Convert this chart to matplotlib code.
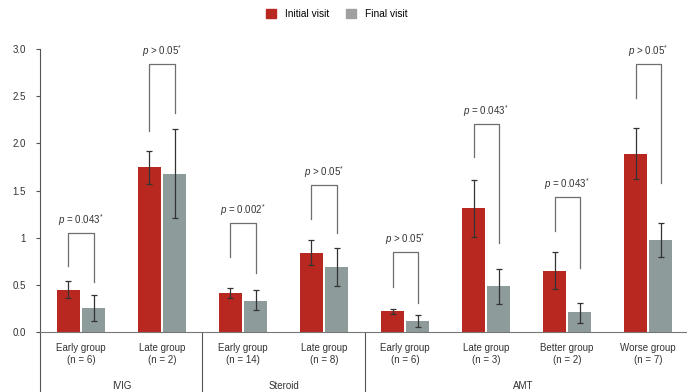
import matplotlib
matplotlib.use("Agg")
import matplotlib.pyplot as plt
import matplotlib.transforms as mtransforms
from matplotlib.patches import Patch

plt.rcParams['font.family'] = ['Liberation Sans', 'DejaVu Sans']
plt.rcParams['mathtext.fontset'] = 'custom'
plt.rcParams['mathtext.rm'] = 'Liberation Sans'
plt.rcParams['mathtext.it'] = 'Liberation Sans:italic'

# data
categories = ['Early group\n(n = 6)', 'Late group\n(n = 2)',
              'Early group\n(n = 14)', 'Late group\n(n = 8)',
              'Early group\n(n = 6)', 'Late group\n(n = 3)',
              'Better group\n(n = 2)', 'Worse group\n(n = 7)']
treatments = ['IVIG', 'Steroid', 'AMT']
treatment_span = [(0, 1), (2, 3), (4, 7)]

initial = [0.45, 1.75, 0.41, 0.84, 0.22, 1.31, 0.65, 1.89]
initial_lo = [0.36, 1.57, 0.36, 0.71, 0.19, 1.01, 0.46, 1.62]
initial_hi = [0.54, 1.92, 0.47, 0.97, 0.24, 1.61, 0.85, 2.16]

final = [0.25, 1.67, 0.33, 0.69, 0.12, 0.49, 0.21, 0.98]
final_lo = [0.12, 1.21, 0.23, 0.49, 0.05, 0.30, 0.10, 0.80]
final_hi = [0.39, 2.15, 0.45, 0.89, 0.18, 0.67, 0.31, 1.16]

p_labels = ['= 0.043', '> 0.05', '= 0.002', '> 0.05',
            '> 0.05', '= 0.043', '= 0.043', '> 0.05']
bracket_top = [1.05, 2.84, 1.16, 1.56, 0.85, 2.21, 1.43, 2.84]
bracket_left = [0.70, 2.13, 0.80, 1.20, 0.48, 1.85, 1.07, 2.48]
bracket_right = [0.53, 2.32, 0.63, 1.05, 0.31, 0.94, 0.68, 1.58]

red = '#b82820'
grey = '#8e9b9b'

fig = plt.figure(figsize=(6.87, 3.92), dpi=100)
ax = fig.add_axes([40 / 687, 1 - 332 / 392, 647 / 687, 283 / 392])

x = list(range(len(categories)))
off = 0.155
w = 0.284
xr = [i - off for i in x]
xf = [i + off for i in x]

err_i = [[v - l for v, l in zip(initial, initial_lo)], [h - v for v, h in zip(initial, initial_hi)]]
err_f = [[v - l for v, l in zip(final, final_lo)], [h - v for v, h in zip(final, final_hi)]]

ax.bar(xr, initial, w, color=red, zorder=2)
ax.bar(xf, final, w, color=grey, zorder=2)
ax.errorbar(xr, initial, yerr=err_i, fmt='none', ecolor='#333333', elinewidth=0.9, capsize=2, capthick=0.9, zorder=3)
ax.errorbar(xf, final, yerr=err_f, fmt='none', ecolor='#333333', elinewidth=0.9, capsize=2, capthick=0.9, zorder=3)

# significance brackets
for i in x:
    ax.plot([xr[i], xr[i], xf[i], xf[i]],
            [bracket_left[i], bracket_top[i], bracket_top[i], bracket_right[i]],
            color='#6e6e6e', lw=0.9, zorder=1)
    ax.text(i, bracket_top[i] + 0.05, r'$\it{p}$ ' + p_labels[i] + r'$^{*}$',
            ha='center', va='bottom', fontsize=7, color='#333333')

ax.set_xlim(-0.506, 7.48)
ax.set_ylim(0, 3.0)
ax.set_yticks([0, 0.5, 1, 1.5, 2.0, 2.5, 3.0])
ax.set_yticklabels(['0.0', '0.5', '1', '1.5', '2.0', '2.5', '3.0'])
ax.tick_params(axis='y', length=3, width=0.8, color='#555555', labelsize=7, labelcolor='#333333', pad=7)
ax.set_xticks([])
for s in ['top', 'right']:
    ax.spines[s].set_visible(False)
ax.spines['left'].set_color('#555555')
ax.spines['bottom'].set_color('#777777')
ax.spines['left'].set_linewidth(0.8)
ax.spines['bottom'].set_linewidth(0.8)

# lower category area
trans = mtransforms.blended_transform_factory(ax.transData, ax.transAxes)
ybot = -60 / 283
for sx in [-0.506, 1.494, 3.506]:
    ax.plot([sx, sx], [0, ybot], transform=trans, clip_on=False, color='#555555', lw=0.8)
for i, c in enumerate(categories):
    ax.text(i, -22 / 283, c, transform=trans, ha='center', va='center',
            fontsize=7, color='#333333', linespacing=1.3)
for name, (a, b) in zip(treatments, treatment_span):
    lo = a - 0.5
    hi = b + 0.5 if b < 7 else 7.48
    ax.text((lo + hi) / 2 - (0.03 if b == 7 else 0), -54 / 283, name, transform=trans,
            ha='center', va='center', fontsize=7, color='#333333')

fig.legend(handles=[Patch(color=red, label='Initial visit'), Patch(color='#a0a0a0', label='Final visit')],
           loc='upper center', bbox_to_anchor=(0.49, 1.0), ncol=2, frameon=False,
           fontsize=7.3, handlelength=1.0, handleheight=1.0, columnspacing=1.6, handletextpad=0.9)

fig.savefig('out.png', dpi=100)
